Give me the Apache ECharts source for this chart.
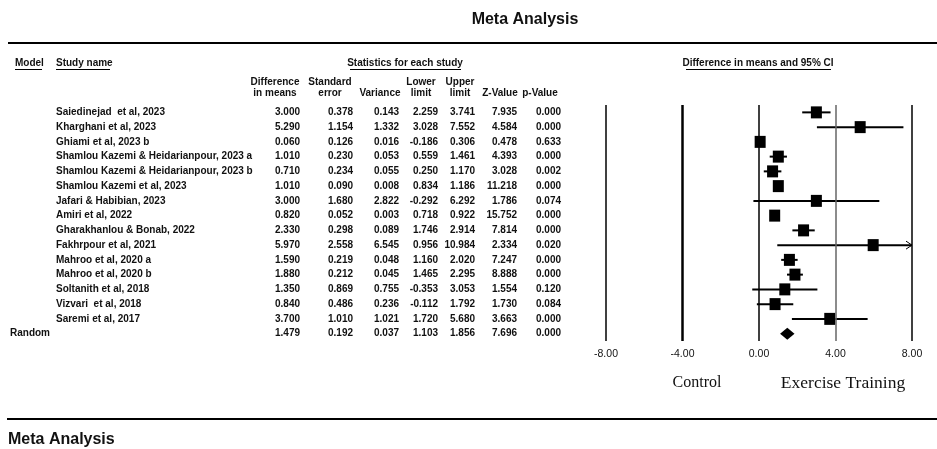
<!DOCTYPE html>
<html><head><meta charset="utf-8">
<script src="https://cdn.jsdelivr.net/npm/echarts@6/dist/echarts.min.js"></script>
<style>html,body{margin:0;padding:0;background:#fff}#c{width:937px;height:449px}</style>
</head><body><div id="c"></div>
<script>
// ---------- DATA ----------
const models = ['', '', '', '', '', '', '', '', '', '', '', '', '', '', '', 'Random'];
const studies = [
  'Saiedinejad  et al, 2023', 'Kharghani et al, 2023', 'Ghiami et al, 2023 b',
  'Shamlou Kazemi & Heidarianpour, 2023 a', 'Shamlou Kazemi & Heidarianpour, 2023 b',
  'Shamlou Kazemi et al, 2023', 'Jafari & Habibian, 2023', 'Amiri et al, 2022',
  'Gharakhanlou & Bonab, 2022', 'Fakhrpour et al, 2021', 'Mahroo et al, 2020 a',
  'Mahroo et al, 2020 b', 'Soltanith et al, 2018', 'Vizvari  et al, 2018',
  'Saremi et al, 2017', ''
];
const diffMeans  = [3.000, 5.290, 0.060, 1.010, 0.710, 1.010, 3.000, 0.820, 2.330, 5.970, 1.590, 1.880, 1.350, 0.840, 3.700, 1.479];
const stdErr     = [0.378, 1.154, 0.126, 0.230, 0.234, 0.090, 1.680, 0.052, 0.298, 2.558, 0.219, 0.212, 0.869, 0.486, 1.010, 0.192];
const variance   = [0.143, 1.332, 0.016, 0.053, 0.055, 0.008, 2.822, 0.003, 0.089, 6.545, 0.048, 0.045, 0.755, 0.236, 1.021, 0.037];
const lowerLimit = [2.259, 3.028, -0.186, 0.559, 0.250, 0.834, -0.292, 0.718, 1.746, 0.956, 1.160, 1.465, -0.353, -0.112, 1.720, 1.103];
const upperLimit = [3.741, 7.552, 0.306, 1.461, 1.170, 1.186, 6.292, 0.922, 2.914, 10.984, 2.020, 2.295, 3.053, 1.792, 5.680, 1.856];
const zValue     = [7.935, 4.584, 0.478, 4.393, 3.028, 11.218, 1.786, 15.752, 7.814, 2.334, 7.247, 8.888, 1.554, 1.730, 3.663, 7.696];
const pValue     = [0.000, 0.000, 0.633, 0.000, 0.002, 0.000, 0.074, 0.000, 0.000, 0.020, 0.000, 0.000, 0.120, 0.084, 0.000, 0.000];
const xTicks = [-8, -4, 0, 4, 8];
const colHeaders = [['Difference', 'in means'], ['Standard', 'error'], ['', 'Variance'], ['Lower', 'limit'], ['Upper', 'limit'], ['', 'Z-Value'], ['', 'p-Value']];
const sideLabels = ['Control', 'Exercise Training'];
const titleText = 'Meta Analysis';

// ---------- CHART ----------
const SANS = "'Liberation Sans', Arial, sans-serif";
const SERIF = "'Liberation Serif', 'Times New Roman', serif";
const TXT = '#111';
const rows = studies.map((_, i) => String(i));
const xMin = xTicks[0], xMax = xTicks[xTicks.length - 1];
const GRID_LEFT = 606;

const fmt3 = v => v.toFixed(3);
const tableCols = [
  { vals: models, left: 10, align: 'left' },
  { vals: studies, left: 56, align: 'left' },
  { vals: diffMeans.map(fmt3), right: 300, hc: 275 },
  { vals: stdErr.map(fmt3), right: 353, hc: 330 },
  { vals: variance.map(fmt3), right: 399, hc: 380 },
  { vals: lowerLimit.map(fmt3), right: 438, hc: 421 },
  { vals: upperLimit.map(fmt3), right: 475, hc: 460 },
  { vals: zValue.map(fmt3), right: 517, hc: 500 },
  { vals: pValue.map(fmt3), right: 561, hc: 540 }
];

const yAxes = [{
  type: 'category', gridIndex: 0, data: rows, inverse: true,
  axisLine: { show: false }, axisTick: { show: false }, axisLabel: { show: false }, splitLine: { show: false }
}];
tableCols.forEach(c => {
  const anchor = c.align === 'left' ? c.left : c.right;
  yAxes.push({
    type: 'category', gridIndex: 0, data: rows, inverse: true, position: 'left',
    offset: GRID_LEFT - anchor,
    axisLine: { show: false }, axisTick: { show: false }, splitLine: { show: false },
    axisLabel: {
      show: true, interval: 0, margin: 0, align: c.align || 'right',
      fontFamily: SANS, fontSize: 10, fontWeight: 'bold', color: TXT,
      formatter: (v, i) => c.vals[i]
    }
  });
});

const forestData = rows.map((r, i) => [i, lowerLimit[i], upperLimit[i], diffMeans[i]]);

const lineStyleFor = v => {
  if (v === -4) return { color: '#000', width: 2.5, type: 'solid' };
  if (v === 4) return { color: '#666', width: 1.5, type: 'solid' };
  return { color: '#000', width: 1.5, type: 'solid' };
};

const graphics = [];
const addText = (text, x, y, font, align, vAlign) => graphics.push({
  type: 'text', x: x, y: y, silent: true,
  style: { text: text, font: font, align: align || 'center', verticalAlign: vAlign || 'middle', fill: TXT }
});
const addLine = (x1, y1, x2, y2, w) => graphics.push({
  type: 'line', silent: true, shape: { x1: x1, y1: y1, x2: x2, y2: y2 },
  style: { stroke: '#000', lineWidth: w }
});

addText(titleText, 525, 20, 'bold 16px ' + SANS);
addLine(8, 43, 937, 43, 2);
addText('Model', 15, 63, 'bold 10px ' + SANS, 'left');
addLine(15, 69.5, 42, 69.5, 1);
addText('Study name', 56, 63, 'bold 10px ' + SANS, 'left');
addLine(56, 69.5, 110, 69.5, 1);
addText('Statistics for each study', 405, 63, 'bold 10px ' + SANS);
addLine(350, 69.5, 461, 69.5, 1);
addText('Difference in means and 95% CI', 758, 63, 'bold 10px ' + SANS);
addLine(686, 69.5, 831, 69.5, 1);
colHeaders.forEach((h, k) => {
  const c = tableCols[k + 2];
  if (h[0]) addText(h[0], c.hc, 82, 'bold 10px ' + SANS);
  if (h[1]) addText(h[1], c.hc, 93, 'bold 10px ' + SANS);
});
addText(sideLabels[0], 697, 383, '16px ' + SERIF);
addText(sideLabels[1], 843, 383, '17.5px ' + SERIF);
addLine(7, 419, 937, 419, 2);
addText(titleText, 8, 440, 'bold 16px ' + SANS, 'left');

const option = {
  animation: false,
  backgroundColor: '#fff',
  grid: { left: GRID_LEFT, right: 25, top: 105, bottom: 108, outerBoundsMode: 'none', containLabel: false },
  xAxis: {
    type: 'value', min: xMin, max: xMax, interval: 4,
    axisLine: { show: false }, axisTick: { show: false }, splitLine: { show: false },
    axisLabel: { margin: 8, fontFamily: SANS, fontSize: 10.5, color: TXT, formatter: v => v.toFixed(2) }
  },
  yAxis: yAxes,
  series: [{
    type: 'custom',
    xAxisIndex: 0, yAxisIndex: 0,
    data: forestData,
    encode: { y: 0, x: [1, 2, 3] },
    clip: false,
    renderItem: (params, api) => {
      const row = api.value(0);
      const lo = api.value(1), hi = api.value(2), est = api.value(3);
      const y = api.coord([0, row])[1];
      const xl = api.coord([Math.max(lo, xMin), row])[0];
      const xh = api.coord([Math.min(hi, xMax), row])[0];
      const xe = api.coord([est, row])[0];
      const children = [];
      if (models[row] === 'Random') {
        children.push({ type: 'polygon', shape: { points: [[xl, y], [xe, y - 6], [xh, y], [xe, y + 6]] }, style: { fill: '#000' } });
      } else {
        children.push({ type: 'line', shape: { x1: xl, y1: y, x2: xh, y2: y }, style: { stroke: '#000', lineWidth: 2 } });
        if (hi > xMax) {
          children.push({ type: 'polyline', shape: { points: [[xh - 6, y - 4], [xh, y], [xh - 6, y + 4]] }, style: { stroke: '#000', lineWidth: 1, fill: null } });
        }
        children.push({ type: 'rect', shape: { x: xe - 5.5, y: y - 6, width: 11, height: 12 }, style: { fill: '#000' } });
      }
      return { type: 'group', children: children };
    },
    markLine: {
      silent: true, symbol: 'none', animation: false,
      label: { show: false },
      data: xTicks.map(v => ({ xAxis: v, lineStyle: lineStyleFor(v) }))
    },
    z: 3
  }],
  graphic: graphics
};

const chart = echarts.init(document.getElementById('c'), null, { renderer: 'canvas' });
chart.setOption(option);
</script>
</body></html>
